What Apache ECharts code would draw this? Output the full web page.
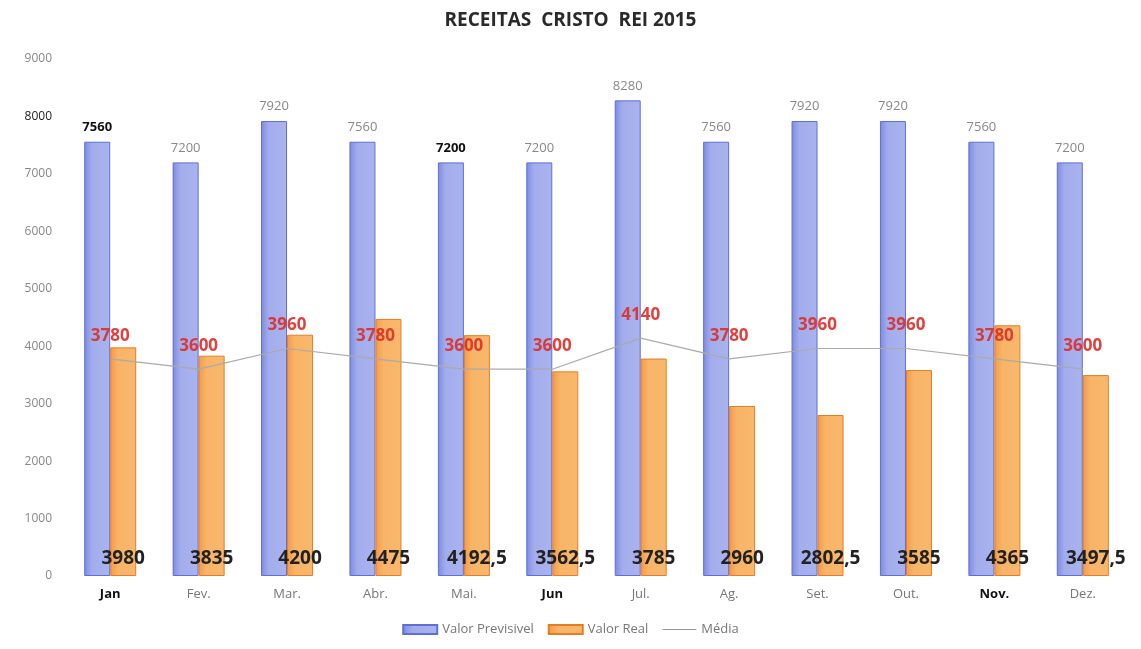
<!DOCTYPE html>
<html><head><meta charset="utf-8">
<script src="https://cdn.jsdelivr.net/npm/echarts@6/dist/echarts.min.js"></script>
<style>html,body{margin:0;padding:0;background:#fff}#c{width:1141px;height:649px}</style>
</head><body><div id="c"></div>
<script>
const categories = ['Jan','Fev.','Mar.','Abr.','Mai.','Jun','Jul.','Ag.','Set.','Out.','Nov.','Dez.'];
const boldCats = ['Jan','Jun','Nov.'];
const previsivel = [7560,7200,7920,7560,7200,7200,8280,7560,7920,7920,7560,7200];
const boldPrev = [0,4];
const real = [3980,3835,4200,4475,4192.5,3562.5,3785,2960,2802.5,3585,4365,3497.5];
const media = [3780,3600,3960,3780,3600,3600,4140,3780,3960,3960,3780,3600];
const yTicks = [0,1000,2000,3000,4000,5000,6000,7000,8000,9000];

const fmt = v => String(v).replace('.', ',');
const font = '"Open Sans", "Noto Sans", sans-serif';
const chart = echarts.init(document.getElementById('c'));
chart.setOption({
  animation:false,
  textStyle:{fontFamily:font},
  title:{text:'RECEITAS  CRISTO  REI 2015', left:'center', top:6,
    textStyle:{fontFamily:font, fontSize:19, fontWeight:'bold', color:'#2a2a2a'}},
  legend:{bottom:8, left:'center', itemWidth:34, itemHeight:9, itemGap:14,
    textStyle:{color:'#777', fontSize:13, fontFamily:font},
    data:[{name:'Valor Previsivel', icon:'rect'},{name:'Valor Real', icon:'rect'},{name:'Média', icon:'path://M0,0H30V1H0Z', itemStyle:{color:'#999'}}]},
  grid:{left:66, right:14, top:59, bottom:73},
  xAxis:{type:'category', data:categories,
    axisLine:{show:false}, axisTick:{show:false},
    axisLabel:{margin:12, fontSize:13, formatter:v => boldCats.includes(v) ? '{b|'+v+'}' : '{n|'+v+'}',
      rich:{b:{fontWeight:'bold', color:'#111', fontSize:13, fontFamily:font}, n:{color:'#777', fontSize:13, fontFamily:font}}}},
  yAxis:{type:'value', min:0, max:9000, interval:1000,
    axisLine:{show:false}, axisTick:{show:false}, splitLine:{show:false},
    axisLabel:{margin:14, color:'#888', fontSize:12,
      formatter:v => v===8000 ? '{d|'+v+'}' : String(v), rich:{d:{color:'#222', fontSize:12, fontFamily:font}}}},
  series:[
    {name:'Valor Previsivel', type:'bar', barWidth:26, barGap:'0%',
     data:previsivel.map((v,i)=>({value:v, label:{fontWeight: boldPrev.includes(i)?'bold':'normal', color: boldPrev.includes(i)?'#111':'#888'}})),
     itemStyle:{color:{type:'linear',x:0,y:0,x2:1,y2:0,colorStops:[{offset:0,color:'#7d8be0'},{offset:0.3,color:'#a3adec'},{offset:1,color:'#a9b3ee'}]}, borderColor:'#5f6fd6', borderWidth:1},
     label:{show:true, position:'top', distance:8, fontSize:13}},
    {name:'Valor Real', type:'bar', barWidth:26,
     data:real,
     itemStyle:{color:{type:'linear',x:0,y:0,x2:1,y2:0,colorStops:[{offset:0,color:'#f59a45'},{offset:0.3,color:'#f8b468'},{offset:1,color:'#f8b86c'}]}, borderColor:'#e67d26', borderWidth:1},
     label:{show:true, position:'insideBottom', distance:8, offset:[0,0], fontSize:19, fontWeight:'bold', color:'#222', formatter:p=>fmt(p.value)}},
    {name:'Média', type:'line', data:media, symbol:'circle', symbolSize:1, showSymbol:true, z:5,
     lineStyle:{color:'#aaa', width:1.2}, itemStyle:{color:'rgba(0,0,0,0)'},
     label:{show:true, position:'top', distance:14, fontSize:17, fontWeight:'bold', color:'rgba(220,45,40,0.9)'}}
  ]
});
</script></body></html>
